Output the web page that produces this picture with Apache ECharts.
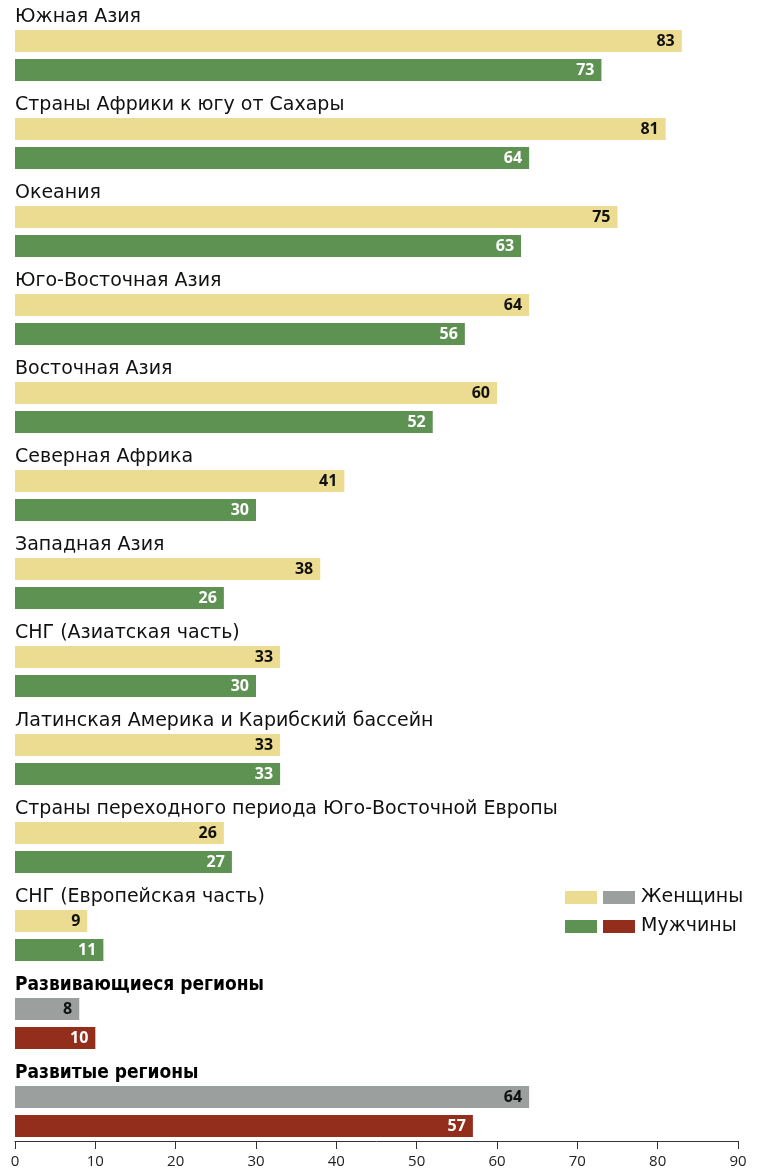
<!DOCTYPE html>
<html>
<head>
<meta charset="utf-8">
<script src="https://cdn.jsdelivr.net/npm/echarts@6/dist/echarts.min.js"></script>
<style>
	html, body { margin: 0; padding: 0; background: #fff; }
	#chart { width: 757px; height: 1169px; }
</style>
</head>
<body>
<div id="chart"></div>
<script>
// категории (сверху вниз)
var categories = [
	'Южная Азия',
	'Страны Африки к югу от Сахары',
	'Океания',
	'Юго-Восточная Азия',
	'Восточная Азия',
	'Северная Африка',
	'Западная Азия',
	'СНГ (Азиатская часть)',
	'Латинская Америка и Карибский бассейн',
	'Страны переходного периода Юго-Восточной Европы',
	'СНГ (Европейская часть)',
	'Развивающиеся регионы',
	'Развитые регионы'
];
// последние две строки — сводные
var summaryRows = ['Развивающиеся регионы', 'Развитые регионы'];

var women = [83, 81, 75, 64, 60, 41, 38, 33, 33, 26, 9, 8, 64];
var men = [73, 64, 63, 56, 52, 30, 26, 30, 33, 27, 11, 10, 57];

var xTicks = [0, 10, 20, 30, 40, 50, 60, 70, 80, 90];

var colors = {
	women: '#ecdc92',
	men: '#5d9253',
	womenSum: '#9ba09f',
	menSum: '#932e1c'
};

function buildData(values, normal, summary) {
	return values.map(function (v, i) {
		var isSum = summaryRows.indexOf(categories[i]) >= 0;
		return { value: v, itemStyle: { color: isSum ? summary : normal } };
	});
}

var chart = echarts.init(document.getElementById('chart'));

var option = {
	animation: false,
	grid: {
		top: 11.5,
		left: 15,
		right: 19,
		height: 1144
	},
	xAxis: {
		type: 'value',
		min: xTicks[0],
		max: xTicks[xTicks.length - 1],
		interval: 10,
		offset: -14.5,
		splitLine: { show: false },
		axisLine: { show: true, lineStyle: { color: '#333', width: 1 } },
		axisTick: { show: true, length: 8, lineStyle: { color: '#333' } },
		axisLabel: {
			margin: 13,
			color: '#222',
			fontSize: 15,
			fontFamily: 'Open Sans'
		}
	},
	yAxis: {
		type: 'category',
		data: categories,
		inverse: true,
		axisLine: { show: false },
		axisTick: { show: false },
		axisLabel: {
			inside: true,
			margin: 0,
			align: 'left',
			verticalAlign: 'middle',
			padding: [0, 0, 76, 0],
			formatter: function (v) {
				return summaryRows.indexOf(v) >= 0 ? '{b|' + v + '}' : '{n|' + v + '}';
			},
			rich: {
				n: { fontFamily: 'DejaVu Sans', fontSize: 19, color: '#111' },
				b: { fontFamily: 'DejaVu Sans Condensed', fontSize: 19, fontWeight: 'bold', color: '#000' }
			}
		}
	},
	series: [
		{
			name: 'Женщины',
			type: 'bar',
			barWidth: 22,
			barGap: '32%',
			data: buildData(women, colors.women, colors.womenSum),
			label: {
				show: true,
				position: 'insideRight',
				distance: 7,
				color: '#111',
				fontFamily: 'Open Sans',
				fontWeight: 'bold',
				fontSize: 16
			}
		},
		{
			name: 'Мужчины',
			type: 'bar',
			barWidth: 22,
			barGap: '32%',
			data: buildData(men, colors.men, colors.menSum),
			label: {
				show: true,
				position: 'insideRight',
				distance: 7,
				color: '#fff',
				fontFamily: 'Open Sans',
				fontWeight: 'bold',
				fontSize: 16
			}
		}
	],
	// легенда
	graphic: [
		{ type: 'rect', left: 565, top: 891, shape: { width: 32, height: 13 }, style: { fill: colors.women } },
		{ type: 'rect', left: 603, top: 891, shape: { width: 32, height: 13 }, style: { fill: colors.womenSum } },
		{ type: 'text', left: 641, top: 888, style: { text: 'Женщины', fontFamily: 'DejaVu Sans', fontSize: 19, fill: '#111' } },
		{ type: 'rect', left: 565, top: 920, shape: { width: 32, height: 13 }, style: { fill: colors.men } },
		{ type: 'rect', left: 603, top: 920, shape: { width: 32, height: 13 }, style: { fill: colors.menSum } },
		{ type: 'text', left: 641, top: 917, style: { text: 'Мужчины', fontFamily: 'DejaVu Sans', fontSize: 19, fill: '#111' } }
	]
};

chart.setOption(option);
</script>
</body>
</html>
